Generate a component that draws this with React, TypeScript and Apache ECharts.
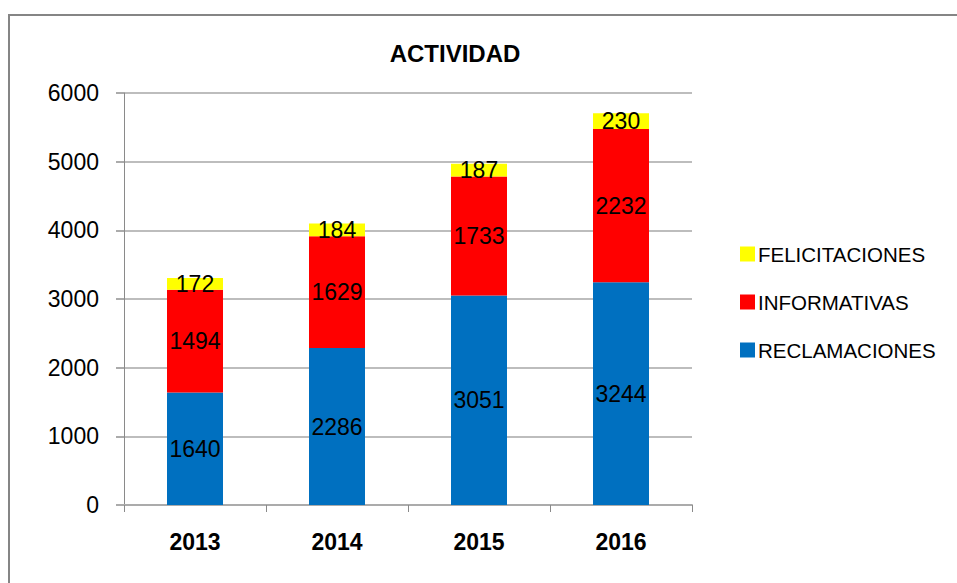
import React, { useEffect, useRef } from "react";
import * as echarts from "echarts";

const years = ["2013", "2014", "2015", "2016"];
const reclamaciones = [1640, 2286, 3051, 3244];
const informativas = [1494, 1629, 1733, 2232];
const felicitaciones = [172, 184, 187, 230];
const legendOrder = ["FELICITACIONES", "INFORMATIVAS", "RECLAMACIONES"];

const FONT = "'Liberation Sans', Arial, sans-serif";

export default function App() {
  const ref = useRef<HTMLDivElement>(null);
  useEffect(() => {
    if (!ref.current) return;
    const chart = echarts.init(ref.current, undefined, { renderer: "svg" });
    const label = {
      show: true,
      position: "inside",
      color: "#000",
      fontSize: 23,
      fontFamily: FONT,
    };
    chart.setOption({
      animation: false,
      backgroundColor: "#fff",
      textStyle: { fontFamily: FONT },
      title: {
        text: "ACTIVIDAD",
        left: 450,
        top: 36,
        textAlign: "center",
        textStyle: { fontSize: 24, fontWeight: "bold", color: "#000", fontFamily: FONT },
      },
      graphic: [
        {
          type: "rect",
          shape: { x: 9, y: 15, width: 1100, height: 700 },
          style: { fill: "none", stroke: "#858585", lineWidth: 2 },
          silent: true,
        },
      ],
      legend: {
        orient: "vertical",
        left: 735,
        top: 238,
        itemWidth: 15,
        itemHeight: 15,
        itemGap: 26,
        icon: "rect",
        data: legendOrder,
        textStyle: { fontSize: 20.5, color: "#000", fontFamily: FONT, lineHeight: 22, padding: [0, 0, 0, -2] },
      },
      grid: { left: 124, right: 265, top: 93, bottom: 78, containLabel: false },
      xAxis: {
        type: "category",
        data: years,
        axisLine: { show: true, lineStyle: { color: "#ababab", width: 2 } },
        axisTick: { show: true, length: 7, lineStyle: { color: "#8a8a8a", width: 1 } },
        axisLabel: { fontSize: 23, fontWeight: "bold", color: "#000", margin: 25, fontFamily: FONT },
      },
      yAxis: {
        type: "value",
        min: 0,
        max: 6000,
        interval: 1000,
        axisLine: { show: true, lineStyle: { color: "#8a8a8a", width: 1 } },
        axisTick: { show: true, length: 8, lineStyle: { color: "#ababab", width: 2 } },
        axisLabel: {
          fontSize: 23,
          color: "#000",
          margin: 25,
          fontFamily: FONT,
          formatter: (v: number) => String(v),
        },
        splitLine: { show: true, lineStyle: { color: "#bdbdbd", width: 2 } },
      },
      series: [
        {
          name: "RECLAMACIONES",
          type: "bar",
          stack: "total",
          barWidth: 56,
          data: reclamaciones,
          itemStyle: { color: "#0070C0" },
          label,
        },
        {
          name: "INFORMATIVAS",
          type: "bar",
          stack: "total",
          barWidth: 56,
          data: informativas,
          itemStyle: { color: "#FF0000" },
          label,
        },
        {
          name: "FELICITACIONES",
          type: "bar",
          stack: "total",
          barWidth: 56,
          data: felicitaciones,
          itemStyle: { color: "#FFFF00" },
          label,
        },
      ],
    });
    return () => chart.dispose();
  }, []);
  return (
    <div
      ref={ref}
      style={{ position: "fixed", left: 0, top: 0, width: 957, height: 583 }}
    />
  );
}
